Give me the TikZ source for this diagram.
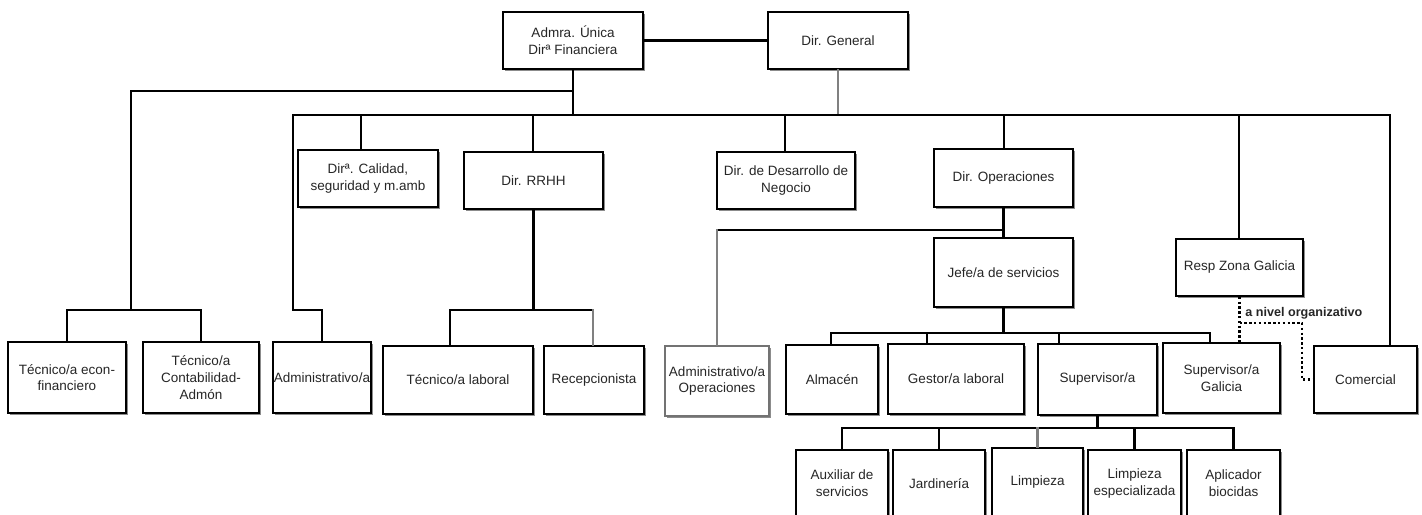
\documentclass[tikz,border=0pt]{standalone}
\usepackage{fontspec}
\newfontfamily\orgfont{Liberation Sans}
\usetikzlibrary{shadows}

\begin{document}
\begin{tikzpicture}[x=0.5pt, y=-0.5pt]
  \tikzset{puesto/.style     = {draw, line width=0.85pt, fill=white, inner sep=0pt,
                                align=center, text=black!85,
                                font={\orgfont\fontsize{6.75}{8.4}\selectfont},
                                drop shadow={shadow xshift=0.8pt, shadow yshift=-0.8pt,
                                             fill=black!45, opacity=1}},
           tam/.style 2 args = {minimum width=#1*0.5pt, minimum height=#2*0.5pt},
           enlace/.style     = {line width=1.3pt, line cap=rect},
           gris/.style       = {enlace, draw=black!50},
           punteado/.style   = {line width=1.3pt, dash pattern=on 1.2pt off 1.2pt},
           rotulo/.style     = {inner sep=0pt, text=black!85,
                                font={\orgfont\bfseries\fontsize{6.3}{7}\selectfont}}}
  \useasboundingbox (0,0) rectangle (1422,514);
  \node[puesto, tam={140}{57}] (A)  at (573,40.5)     {Admra. Única\\Dirª Financiera};
  \node[puesto, tam={140}{57}] (G)  at (838,40.5)     {Dir. General};
  \node[puesto, tam={140}{57}] (C)  at (368,178.5)    {Dirª. Calidad,\\seguridad y m.amb};
  \node[puesto, tam={139}{57}] (R)  at (533.5,180.5)  {Dir. RRHH};
  \node[puesto, tam={138}{57}] (D)  at (786,180.5)    {Dir. de Desarrollo de\\Negocio};
  \node[puesto, tam={139}{58}] (O)  at (1003.5,178)   {Dir. Operaciones};
  \node[puesto, tam={139}{69}] (J)  at (1003.5,272.5) {Jefe/a de servicios};
  \node[puesto, tam={127}{57}] (Z)  at (1239.5,267.5) {Resp Zona Galicia};
  \node[puesto, tam={118}{71}] (E1) at (67,377.5)     {Técnico/a econ-\\financiero};
  \node[puesto, tam={116}{71}] (E2) at (201,377.5)    {Técnico/a\\Contabilidad-\\Admón};
  \node[puesto, tam={98}{71}]  (E3) at (322,377.5)    {Administrativo/a};
  \node[puesto, tam={150}{68}] (L1) at (458,380)      {Técnico/a laboral};
  \node[puesto, tam={100}{68}] (L2) at (594,380)      {Recepcionista};
  \node[puesto, tam={104}{70}, draw=black!55] (P) at (717,381) {Administrativo/a\\Operaciones};
  \node[puesto, tam={92}{69}]  (S1) at (832,379.5)    {Almacén};
  \node[puesto, tam={136}{70}] (S2) at (956,379)      {Gestor/a laboral};
  \node[puesto, tam={119}{71}] (S3) at (1097.5,379.5) {Supervisor/a};
  \node[puesto, tam={117}{70}] (S4) at (1221.5,378)   {Supervisor/a\\Galicia};
  \node[puesto, tam={103}{67}] (K)  at (1365.5,379.5) {Comercial};
  \node[puesto, tam={92}{67}]  (B1) at (842,483.5)    {Auxiliar de\\servicios};
  \node[puesto, tam={92}{67}]  (B2) at (939,483.5)    {Jardinería};
  \node[puesto, tam={91}{69}]  (B3) at (1037.5,482.5) {Limpieza};
  \node[puesto, tam={93}{67}]  (B4) at (1134.5,483.5) {Limpieza\\especializada};
  \node[puesto, tam={93}{67}]  (B5) at (1233.5,483.5) {Aplicador\\biocidas};

  \coordinate (nA) at (131,91);
  \coordinate (bI) at (293,115);
  \coordinate (bD) at (1390,115);
  \coordinate (n2) at (0,310);
  \coordinate (nJ) at (0,333);
  \coordinate (nS) at (0,428);

  \draw[enlace] (A.east) -- (G.west);
  \draw[enlace] (A.south) -- (A.south |- bI);
  \draw[gris]   (G.south) -- (G.south |- bI);
  \draw[enlace] (nA) -- (nA -| A.south);
  \draw[enlace] (bI) -- (bD) -- (bD |- K.north);
  \foreach \n/\x in {C/361, R/533, D/785, O/1004, Z/1239}
    {\coordinate (p) at (\x,115); \draw[enlace] (p) -- (p |- \n.north);}

  \draw[enlace] (nA) -- (nA |- n2);
  \draw[enlace] (E1.north) -- (E1.north |- n2) -- (E2.north |- n2) -- (E2.north);
  \draw[enlace] (bI) -- (bI |- n2) -| (E3.north);

  \coordinate (r1) at (450,310);
  \coordinate (r2) at (593,310);
  \draw[enlace] (R.south) -- (R.south |- n2);
  \draw[enlace] (r2) -- (r1) -- (r1 |- L1.north);
  \draw[gris]   (r2) -- (r2 |- L2.north);

  \coordinate (oP) at (717,230);
  \draw[enlace] (O.south) -- (J.north);
  \draw[enlace] (oP) -- (oP -| O.south);
  \draw[gris]   (oP) -- (P.north);

  \coordinate (j1) at (831,333);
  \coordinate (j4) at (1210,333);
  \draw[enlace] (J.south) -- (J.south |- nJ);
  \draw[enlace] (j1) -- (j4);
  \foreach \n/\x in {S1/831, S2/927, S3/1059, S4/1210}
    {\coordinate (p) at (\x,333); \draw[enlace] (p) -- (p |- \n.north);}

  \draw[enlace] (S3.south) -- (S3.south |- nS);
  \draw[enlace] (B1.north |- nS) -- (B5.north |- nS);
  \foreach \n in {B1, B2, B4, B5}
    \draw[enlace] (\n.north |- nS) -- (\n.north);
  \draw[gris]   (B3.north |- nS) -- (B3.north);

  \coordinate (q) at (1302,323);
  \draw[punteado] (Z.south) -- (Z.south |- S4.north);
  \draw[punteado] (q -| Z.south) -- (q) |- (K.west);
  \node[rotulo, anchor=west] (N) at (1245,313) {a nivel organizativo};
\end{tikzpicture}
\end{document}
